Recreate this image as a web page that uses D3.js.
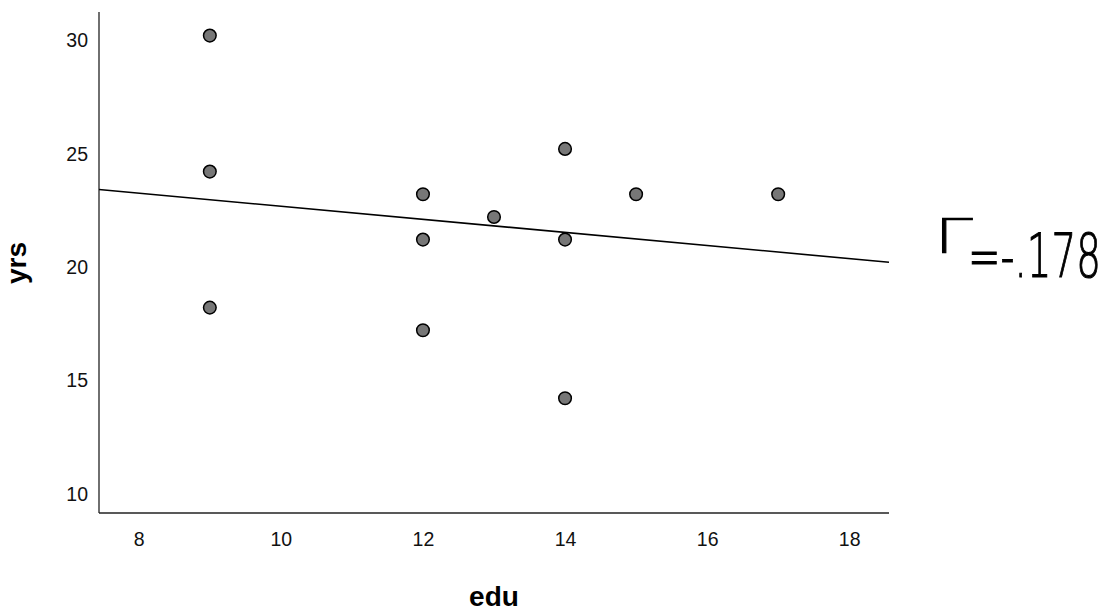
<!DOCTYPE html>
<html>
<head>
<meta charset="utf-8">
<script src="https://cdn.jsdelivr.net/npm/d3@7"></script>
<style>
  html, body { margin: 0; padding: 0; background: #fff; }
  svg { display: block; }
</style>
</head>
<body>
<svg id="chart" width="1115" height="612"></svg>
<script>
// ---- data ----
const edu = [9, 9, 9, 12, 12, 12, 13, 14, 14, 14, 15, 17];
const yrs = [30, 24, 18, 23, 21, 17, 22, 25, 21, 14, 23, 23];
const xTicks = [8, 10, 12, 14, 16, 18];
const yTicks = [10, 15, 20, 25, 30];
const xTitle = "edu";
const yTitle = "yrs";
const annotationSymbol = "Γ";
const annotationValue = "=-.178";

// ---- layout ----
const plotLeft = 99, plotRight = 889, plotTop = 12, plotBottom = 513;
const svg = d3.select("#chart");

const x = d3.scaleLinear().domain([7.44, 18.56]).range([plotLeft, plotRight]);
const y = d3.scaleLinear().domain([8.94, 31.04]).range([plotBottom, plotTop]);

const font = "Arial, 'Liberation Sans', sans-serif";

// axes
const xAxis = svg.append("g").attr("transform", `translate(0,${plotBottom})`)
  .call(d3.axisBottom(x).tickValues(xTicks).tickSize(0).tickPadding(19).tickFormat(d3.format("d")));
xAxis.select(".domain").remove();
xAxis.selectAll("text").attr("font-family", font).attr("font-size", 19.5).attr("fill", "#111");

const yAxis = svg.append("g").attr("transform", `translate(${plotLeft},0)`)
  .call(d3.axisLeft(y).tickValues(yTicks).tickSize(0).tickPadding(11).tickFormat(d3.format("d")));
yAxis.select(".domain").remove();
yAxis.selectAll("text").attr("font-family", font).attr("font-size", 19.5).attr("fill", "#111")
  .attr("transform", "translate(0,5)");

// axis lines
svg.append("line").attr("x1", plotLeft).attr("x2", plotRight).attr("y1", plotBottom).attr("y2", plotBottom)
  .attr("stroke", "#222").attr("stroke-width", 1.3);
svg.append("line").attr("x1", plotLeft).attr("x2", plotLeft).attr("y1", plotTop).attr("y2", plotBottom)
  .attr("stroke", "#222").attr("stroke-width", 1.3);

// regression line (least squares fit of the data)
const pts = edu.map((e, i) => ({x: e, y: yrs[i]}));
const mx = d3.mean(edu), my = d3.mean(yrs);
const sxy = d3.sum(pts, p => (p.x - mx) * (p.y - my));
const sxx = d3.sum(pts, p => (p.x - mx) ** 2);
const slope = sxy / sxx, icpt = my - slope * mx;
const [x0, x1] = x.domain();
svg.append("line")
  .attr("x1", x(x0)).attr("y1", y(icpt + slope * x0))
  .attr("x2", x(x1)).attr("y2", y(icpt + slope * x1))
  .attr("stroke", "#000").attr("stroke-width", 1.6);

// points
svg.append("g").selectAll("circle").data(pts).join("circle")
  .attr("cx", d => x(d.x)).attr("cy", d => y(d.y)).attr("r", 6.3)
  .attr("fill", "#777").attr("stroke", "#000").attr("stroke-width", 1.5);

// axis titles
svg.append("text").attr("x", 494).attr("y", 606).attr("text-anchor", "middle")
  .attr("font-family", font).attr("font-weight", "bold").attr("font-size", 28)
  .attr("fill", "#000").text(xTitle);
svg.append("text").attr("transform", "translate(26,263) rotate(-90)").attr("text-anchor", "middle")
  .attr("font-family", font).attr("font-weight", "bold").attr("font-size", 28)
  .attr("fill", "#000").text(yTitle);

// handwritten annotation
const ann = svg.append("g")
  .attr("font-family", "'DejaVu Sans', sans-serif").attr("font-weight", 200)
  .attr("fill", "#000").attr("stroke", "#000").attr("stroke-width", 0.9);
ann.append("text").attr("transform", "translate(934,253) scale(1.45,1)")
  .attr("font-size", 48).attr("vector-effect", "non-scaling-stroke")
  .text(annotationSymbol);
ann.append("text").attr("transform", "translate(968,277) scale(0.97,1.5)")
  .attr("font-size", 40).attr("vector-effect", "non-scaling-stroke")
  .text(annotationValue);
</script>
</body>
</html>
